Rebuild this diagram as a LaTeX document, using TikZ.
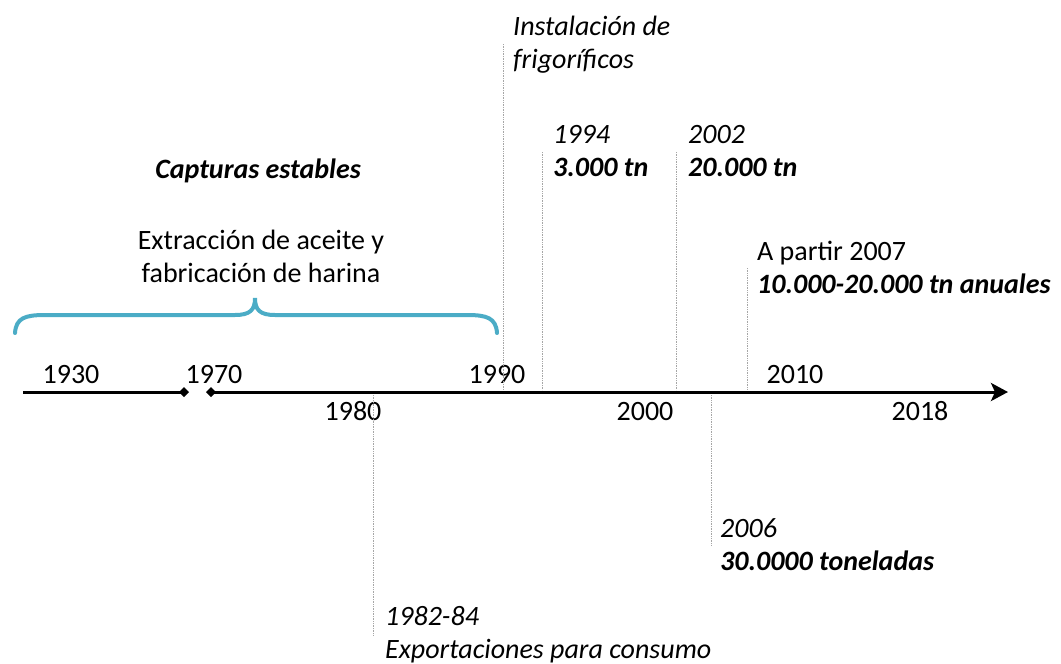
\documentclass[tikz,border=0pt]{standalone}
\usepackage{fontspec}
\setmainfont{Carlito}
\usetikzlibrary{arrows.meta}
\definecolor{bracecol}{RGB}{75,172,198}
\tikzset{
  lbl/.style={inner sep=0pt, font=\fontsize{28}{33}\selectfont, align=left},
  yearlbl/.style={lbl, anchor=base},
  guide/.style={draw=gray!70, densely dotted, line width=0.7pt},
  axis/.style={draw=black, line width=3pt},
  brace/.style={draw=bracecol, line width=4pt, line cap=round}
}
\begin{document}
\begin{tikzpicture}[x=1pt,y=-1pt]
\useasboundingbox (0,0) rectangle (1061,664);
% axis
\coordinate (a1) at (23,392);
\coordinate (a2) at (189,392);
\coordinate (b1) at (206,392);
\coordinate (b2) at (1008,392);
\draw[axis, -{Turned Square[length=10pt,width=10pt]}] (a1) -- (a2);
\draw[axis, {Turned Square[length=10pt,width=10pt]}-{Stealth[length=17pt,width=18pt,inset=4pt]}] (b1) -- (b2);
% year labels
\node[yearlbl] (y1930) at (71,383) {1930};
\node[yearlbl] (y1970) at (214,383) {1970};
\node[yearlbl] (y1990) at (497,383) {1990};
\node[yearlbl] (y2010) at (795,383) {2010};
\node[yearlbl] (y1980) at (353,420) {1980};
\node[yearlbl] (y2000) at (645,420) {2000};
\node[yearlbl] (y2018) at (920,420) {2018};
% guides
\coordinate (g1t) at (503,44); \coordinate (g1b) at (503,390);
\coordinate (g2t) at (542,152); \coordinate (g2b) at (542,390);
\coordinate (g3t) at (676,152); \coordinate (g3b) at (676,390);
\coordinate (g4t) at (747,268); \coordinate (g4b) at (747,390);
\coordinate (g5t) at (373,395); \coordinate (g5b) at (373,636);
\coordinate (g6t) at (711,395); \coordinate (g6b) at (711,545);
\draw[guide] (g1t) -- (g1b);
\draw[guide] (g2t) -- (g2b);
\draw[guide] (g3t) -- (g3b);
\draw[guide] (g4t) -- (g4b);
\draw[guide] (g5t) -- (g5b);
\draw[guide] (g6t) -- (g6b);
% texts (anchor = baseline of last line)
\node[lbl, anchor=base west] (frig) at (513,68) {\itshape Instalación de\\\itshape frigoríficos};
\node[lbl, anchor=base west] (t1994) at (553,176) {\itshape 1994\\\bfseries\itshape 3.000 tn};
\node[lbl, anchor=base west] (t2002) at (688,176) {\itshape 2002\\\bfseries\itshape 20.000 tn};
\node[lbl, anchor=base west] (t2007) at (757,293) {A partir 2007\\\bfseries\itshape 10.000-20.000 tn anuales};
\node[lbl, anchor=base west] (t2006) at (720,570) {\itshape 2006\\\bfseries\itshape 30.0000 toneladas};
\node[lbl, anchor=base west] (t1982) at (385,658) {\itshape 1982-84\\\itshape Exportaciones para consumo};
\node[lbl, anchor=base] (capt) at (258,178) {\bfseries\itshape Capturas estables};
\node[lbl, anchor=base, align=center] (extr) at (261,282) {Extracción de aceite y\\fabricación de harina};
% brace
\draw[brace] (15,333) .. controls (16,318) and (25,315) .. (45,315) -- (235,315)
  .. controls (250,315) and (255,310) .. (255,298)
  .. controls (255,310) and (260,315) .. (275,315) -- (467,315)
  .. controls (487,315) and (496,318) .. (497,333);
\end{tikzpicture}
\end{document}
